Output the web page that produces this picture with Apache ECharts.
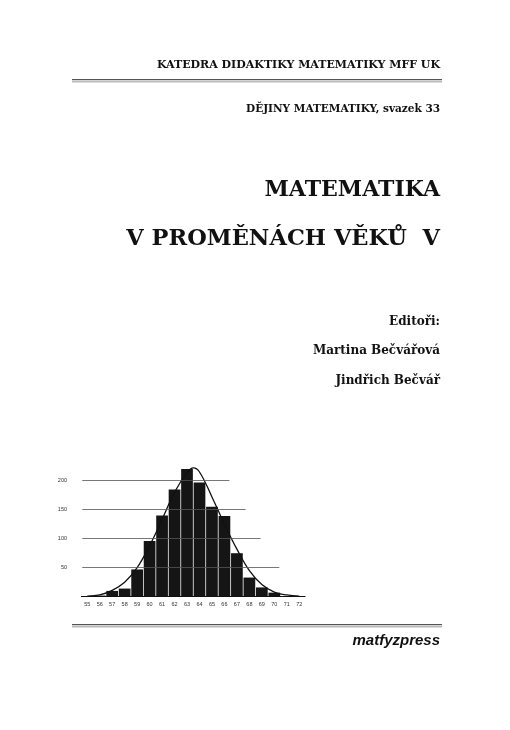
<!DOCTYPE html>
<html lang="cs">
<head>
<meta charset="UTF-8">
<title>Matematika v proměnách věků V</title>
<script src="https://cdn.jsdelivr.net/npm/echarts@6/dist/echarts.min.js"></script>
<style>html,body{margin:0;background:#fff}#c{width:510px;height:730px}</style>
</head>
<body>
<div id="c"></div>
<script>
const categories = ['55','56','57','58','59','60','61','62','63','64','65','66','67','68','69','70','71','72'];
const counts = [0, 2, 10, 14, 47, 96, 140, 185, 220, 197, 155, 139, 75, 33, 16, 7, 1, 0];
// curve, [category position, height]
const curveX = [0, 1, 2, 3, 4, 5, 6, 7, 8, 8.5, 9, 10, 11, 12, 13, 14, 15, 16, 17];
const curveY = [1, 3, 11, 25, 50, 88, 133, 180, 214, 222, 215, 172, 125, 82, 45, 21, 8, 3, 1];
const yTicks = [50, 100, 150, 200];
// where each horizontal rule ends (in category units)
const ruleEnds = [15.4, 13.9, 12.7, 11.4];

const serif = 'DejaVu Serif';
const txt = (text, y, size, extra) => Object.assign({
  type: 'text', right: 70, top: y,
  style: { text, font: 'bold ' + size + 'px "' + serif + '"', fill: '#111' }
}, extra || {});
const dbl = (y) => [
  { type: 'rect', shape: { x: 72, y: y, width: 370, height: 1.2 }, style: { fill: '#555' } },
  { type: 'rect', shape: { x: 72, y: y + 2.5, width: 370, height: 0.8 }, style: { fill: '#777' } }
];

const chart = echarts.init(document.getElementById('c'));
chart.setOption({
  animation: false,
  grid: { left: 81, width: 224.5, top: 451.7, bottom: 133.3 },
  xAxis: [
    { type: 'category', data: categories, axisTick: { show: false },
      axisLine: { show: false },
      axisLabel: { fontSize: 5.5, color: '#333', margin: 5, fontFamily: 'Liberation Sans' } },
    { type: 'value', min: -0.5, max: 17.5, show: false }
  ],
  yAxis: { type: 'value', min: 0, max: 250, interval: 50, splitLine: { show: false },
    axisLine: { show: false }, axisTick: { show: false },
    axisLabel: { fontSize: 5.5, color: '#333', margin: 14, fontFamily: 'Liberation Sans',
      formatter: v => (v > 0 && v < 250) ? v : '' } },
  series: [
    { type: 'bar', data: counts, barCategoryGap: '6%', itemStyle: { color: '#151515' }, z: 2 },
    { type: 'line', xAxisIndex: 1, data: curveX.map((x, i) => [x, curveY[i]]), smooth: 0.4,
      symbol: 'none', lineStyle: { color: '#111', width: 1.3 }, z: 3,
      markLine: { silent: true, symbol: 'none', label: { show: false },
        lineStyle: { color: '#555', width: 0.8, type: 'solid' },
        data: yTicks.map((t, i) => [{ coord: [-0.4, t] }, { coord: [ruleEnds[i], t] }])
          .concat([[{ coord: [-0.5, 0], lineStyle: { color: '#111', width: 1.2 } }, { coord: [17.5, 0] }]]) } }
  ],
  graphic: [
    txt('KATEDRA DIDAKTIKY MATEMATIKY MFF UK', 60, 11),
    ...dbl(79),
    txt('DĚJINY MATEMATIKY, svazek 33', 104, 10.5),
    txt('MATEMATIKA', 179, 22),
    txt('V PROMĚNÁCH VĚKŮ  V', 228, 22.5),
    txt('Editoři:', 316, 12),
    txt('Martina Bečvářová', 345, 12),
    txt('Jindřich Bečvář', 375, 12),
    ...dbl(624),
    { type: 'text', right: 70, top: 633,
      style: { text: 'matfyzpress', font: 'italic bold 15px "Liberation Sans"', fill: '#111' } }
  ]
});
</script>
</body>
</html>
